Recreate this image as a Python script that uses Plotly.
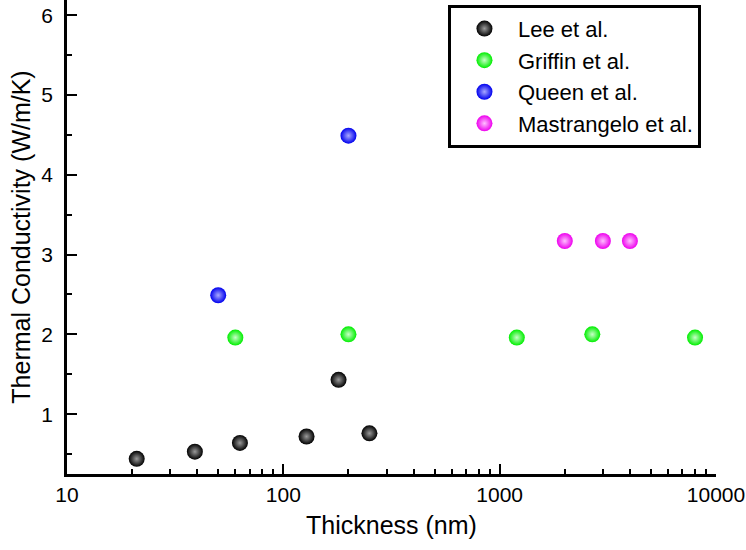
import plotly.graph_objects as go

# Data
lee_x = [21, 39, 63, 128, 180, 250]
lee_y = [0.44, 0.53, 0.64, 0.72, 1.43, 0.76]
griffin_x = [60, 200, 1200, 2680, 8000]
griffin_y = [1.96, 2.00, 1.96, 2.00, 1.96]
queen_x = [50, 200]
queen_y = [2.49, 4.49]
mast_x = [2000, 3000, 4000]
mast_y = [3.17, 3.17, 3.17]

series = [
    ("Lee et al.", lee_x, lee_y, "#000000", "#9a9a9a"),
    ("Griffin et al.", griffin_x, griffin_y, "#00ee00", "#c8ffc8"),
    ("Queen et al.", queen_x, queen_y, "#0000ee", "#a8a8ff"),
    ("Mastrangelo et al.", mast_x, mast_y, "#ee00ee", "#ffc0ff"),
]

FONT = "Arial, Liberation Sans, sans-serif"

fig = go.Figure()
for name, xs, ys, col, hi in series:
    fig.add_trace(go.Scatter(
        x=xs, y=ys, mode="markers", name=name,
        marker=dict(size=16, color=col,
                    gradient=dict(type="radial", color=hi),
                    line=dict(width=0)),
    ))

fig.update_layout(
    width=746, height=550,
    margin=dict(l=67, r=30, t=0, b=76),
    plot_bgcolor="white", paper_bgcolor="white",
    font=dict(family=FONT, color="black"),
    showlegend=True,
    legend=dict(
        x=0.587, y=0.99, xanchor="left", yanchor="top",
        bordercolor="black", borderwidth=3,
        font=dict(size=22, family=FONT, color="black"),
        itemwidth=57, tracegroupgap=0,
        bgcolor="white",
    ),
    xaxis=dict(
        type="log", range=[1, 4],
        tickvals=[10, 100, 1000, 10000], ticktext=["10", "100", "1000", "10000"],
        ticks="inside", ticklen=10, tickwidth=2, tickcolor="black",
        showline=True, linecolor="black", linewidth=2.5,
        showgrid=False, zeroline=False,
        tickfont=dict(size=21, family=FONT, color="black"),
        minor=dict(ticks="inside", ticklen=5, tickwidth=2, tickcolor="black",
                   tickvals=[20, 30, 40, 50, 60, 70, 80, 90,
                             200, 300, 400, 500, 600, 700, 800, 900,
                             2000, 3000, 4000, 5000, 6000, 7000, 8000, 9000],
                   showgrid=False),
        title=dict(text="Thickness (nm)", font=dict(size=25, family=FONT, color="black"),
                   standoff=12),
    ),
    yaxis=dict(
        range=[0.25, 6.19],
        tickvals=[1, 2, 3, 4, 5, 6],
        ticks="inside", ticklen=10, tickwidth=2, tickcolor="black",
        showline=True, linecolor="black", linewidth=2.5,
        showgrid=False, zeroline=False,
        ticklabelstandoff=7,
        tickfont=dict(size=21, family=FONT, color="black"),
        minor=dict(ticks="inside", ticklen=5, tickwidth=2, tickcolor="black",
                   tickvals=[0.5, 1.5, 2.5, 3.5, 4.5, 5.5], showgrid=False),
        title=dict(text="Thermal Conductivity (W/m/K)",
                   font=dict(size=25, family=FONT, color="black"), standoff=4),
    ),
)

fig.write_html("out.html")
